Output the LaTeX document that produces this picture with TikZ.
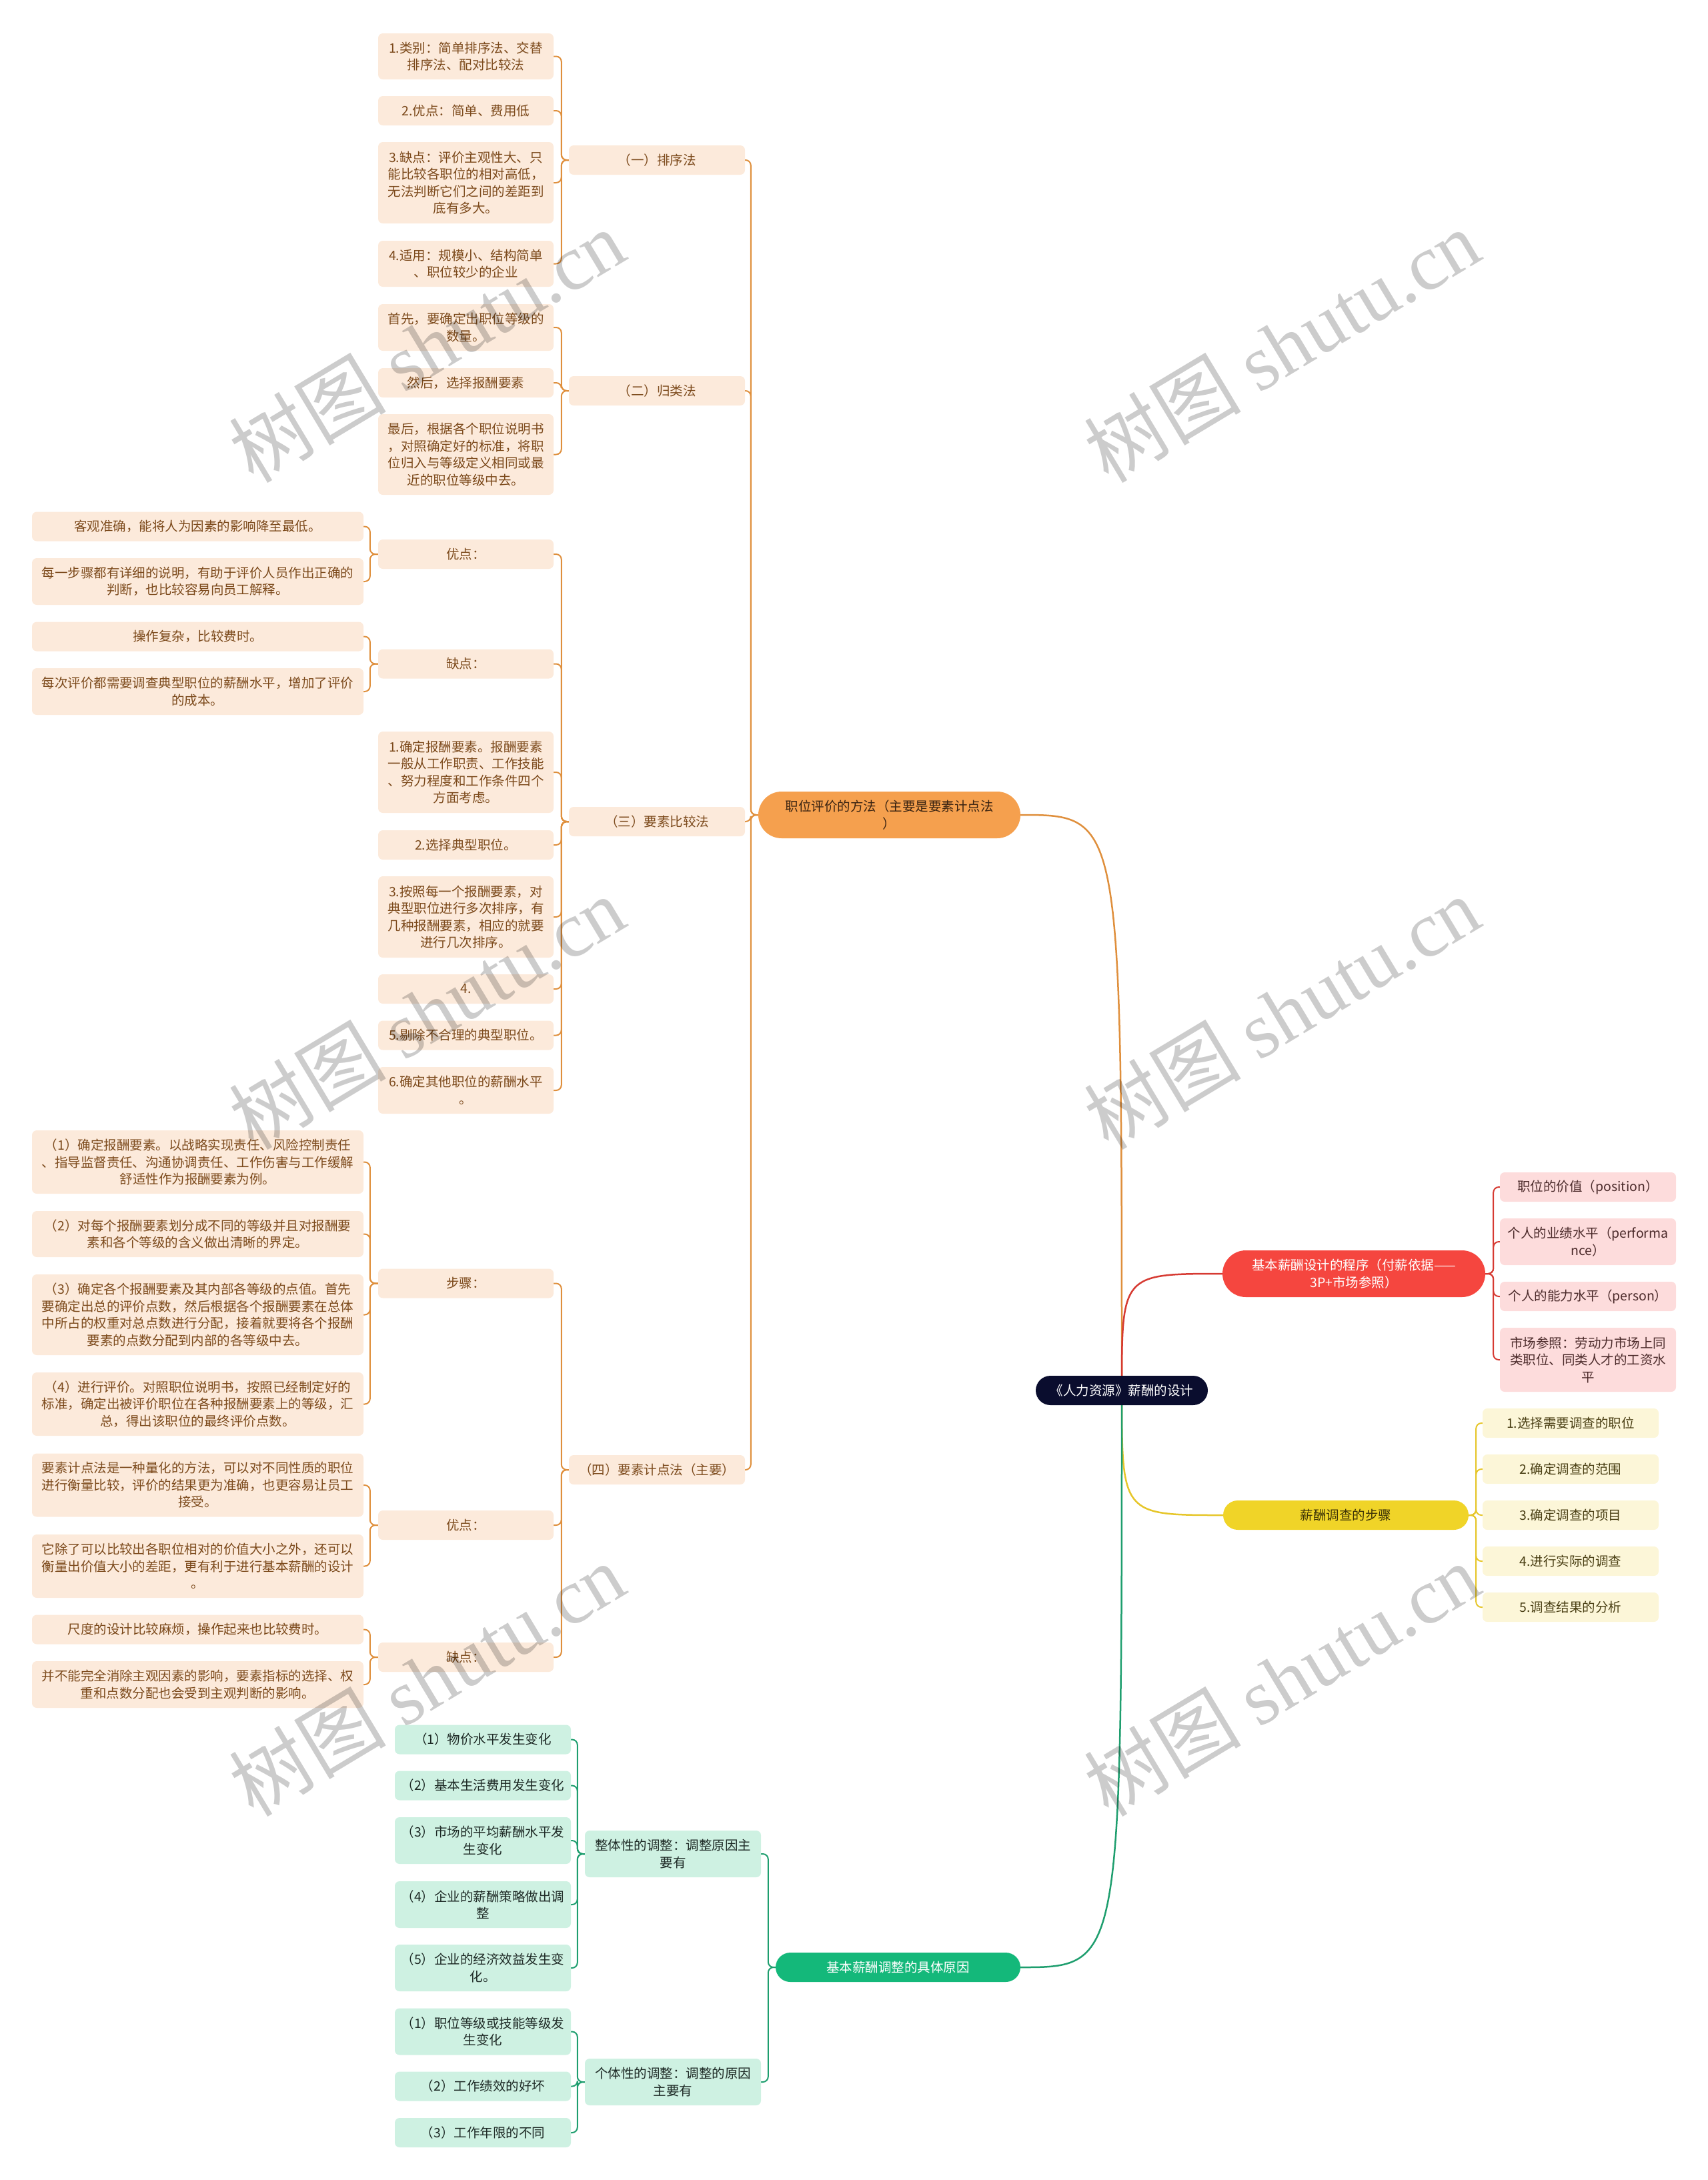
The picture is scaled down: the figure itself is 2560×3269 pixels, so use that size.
\documentclass[tikz,border=0pt]{standalone}
\usepackage{fontspec}
\setmainfont{Noto Sans CJK SC}
\newfontfamily\wmserif{Liberation Serif}
\usetikzlibrary{backgrounds}
\definecolor{oLine}{HTML}{DF8F3C}
\definecolor{oFill}{HTML}{FCEADB}
\definecolor{oPill}{HTML}{F5A04E}
\definecolor{oText}{HTML}{7C4A1C}
\definecolor{oPText}{HTML}{3B2412}
\definecolor{rLine}{HTML}{D63A32}
\definecolor{rPill}{HTML}{F5463F}
\definecolor{rFill}{HTML}{FDDCDC}
\definecolor{rText}{HTML}{4B2A2A}
\definecolor{yLine}{HTML}{E6C62A}
\definecolor{yPill}{HTML}{F0D428}
\definecolor{yFill}{HTML}{FCF6D8}
\definecolor{yText}{HTML}{4A3F14}
\definecolor{yPText}{HTML}{3E3407}
\definecolor{gLine}{HTML}{1E9E6E}
\definecolor{gPill}{HTML}{14B87A}
\definecolor{gFill}{HTML}{CEF1E2}
\definecolor{gText}{HTML}{1E2A26}
\definecolor{rootFill}{HTML}{0A0D2E}
\tikzset{
  sz/.style 2 args={minimum width=#1pt,minimum height=#2pt},
  box/.style={rounded corners=7pt, inner sep=0pt, align=center, font=\fontsize{19.5}{25.5}\selectfont},
  oleaf/.style={box, fill=oFill, text=oText},
  rleaf/.style={box, fill=rFill, text=rText},
  yleaf/.style={box, fill=yFill, text=yText},
  gleaf/.style={box, fill=gFill, text=gText},
  pillA/.style={box, rounded corners=35pt},
  pillB/.style={box, rounded corners=22pt},
  opill/.style={pillA, fill=oPill, text=oPText},
  rpill/.style={pillA, fill=rPill, text=white},
  ypill/.style={pillB, fill=yPill, text=yPText},
  gpill/.style={pillB, fill=gPill, text=white},
  rootn/.style={pillB, fill=rootFill, text=white},
  oln/.style={draw=oLine, line width=2pt, rounded corners=8pt},
  rln/.style={draw=rLine, line width=2pt, rounded corners=8pt},
  yln/.style={draw=yLine, line width=2pt, rounded corners=8pt},
  gln/.style={draw=gLine, line width=2pt, rounded corners=8pt},
  wm/.style={rotate=31, font=\fontsize{118}{118}\selectfont, text=black, text opacity=0.2, inner sep=0pt}
}
\begin{document}
\begin{tikzpicture}[x=1pt,y=-1pt]
\useasboundingbox (0,0) rectangle (2560,3269);
% root and main branches
\node[rootn, sz={258}{44}] (root) at (1682,2085) {《人力资源》薪酬的设计};
\node[opill, sz={393}{70}] (op) at (1333.5,1222) {职位评价的方法（主要是要素计点法\\）};
\node[rpill, sz={394}{70}] (rp) at (2030,1910) {基本薪酬设计的程序（付薪依据——\\3P+市场参照）};
\node[ypill, sz={368}{44}] (yp) at (2018,2272) {薪酬调查的步骤};
\node[gpill, sz={367}{44}] (gp) at (1346.5,2950) {基本薪酬调整的具体原因};
% orange level 2
\node[oleaf, sz={264}{44}] (oA) at (985,240) {（一）排序法};
\node[oleaf, sz={264}{44}] (oB) at (985,586) {（二）归类法};
\node[oleaf, sz={264}{44}] (oC) at (985,1232) {（三）要素比较法};
\node[oleaf, sz={264}{44}] (oD) at (985,2204) {（四）要素计点法（主要）};
% orange level 3
\node[oleaf, sz={263}{69}] (oa1) at (698.5,84.5) {1.类别：简单排序法、交替\\排序法、配对比较法};
\node[oleaf, sz={263}{44}] (oa2) at (698.5,166) {2.优点：简单、费用低};
\node[oleaf, sz={263}{122}] (oa3) at (698.5,274) {3.缺点：评价主观性大、只\\能比较各职位的相对高低，\\无法判断它们之间的差距到\\底有多大。};
\node[oleaf, sz={263}{69}] (oa4) at (698.5,395.5) {4.适用：规模小、结构简单\\、职位较少的企业};
\node[oleaf, sz={263}{70}] (ob1) at (698.5,491) {首先，要确定出职位等级的\\数量。};
\node[oleaf, sz={263}{44}] (ob2) at (698.5,574) {然后，选择报酬要素};
\node[oleaf, sz={263}{121}] (ob3) at (698.5,681.5) {最后，根据各个职位说明书\\，对照确定好的标准，将职\\位归入与等级定义相同或最\\近的职位等级中去。};
\node[oleaf, sz={263}{44}] (oC1) at (698.5,831) {优点：};
\node[oleaf, sz={263}{44}] (oC2) at (698.5,995.5) {缺点：};
\node[oleaf, sz={263}{122}] (oC3) at (698.5,1158) {1.确定报酬要素。报酬要素\\一般从工作职责、工作技能\\、努力程度和工作条件四个\\方面考虑。};
\node[oleaf, sz={263}{44}] (oC4) at (698.5,1267) {2.选择典型职位。};
\node[oleaf, sz={263}{122}] (oC5) at (698.5,1375) {3.按照每一个报酬要素，对\\典型职位进行多次排序，有\\几种报酬要素，相应的就要\\进行几次排序。};
\node[oleaf, sz={263}{44}] (oC6) at (698.5,1483) {4.};
\node[oleaf, sz={263}{44}] (oC7) at (698.5,1552.5) {5.剔除不合理的典型职位。};
\node[oleaf, sz={263}{70}] (oC8) at (698.5,1635) {6.确定其他职位的薪酬水平\\。};
\node[oleaf, sz={263}{44}] (oD1) at (698.5,1924.5) {步骤：};
\node[oleaf, sz={263}{44}] (oD2) at (698.5,2287) {优点：};
\node[oleaf, sz={263}{44}] (oD3) at (698.5,2485) {缺点：};
% orange level 4
\node[oleaf, sz={497}{44}] (oC1a) at (296.5,789.5) {客观准确，能将人为因素的影响降至最低。};
\node[oleaf, sz={497}{70}] (oC1b) at (296.5,872) {每一步骤都有详细的说明，有助于评价人员作出正确的\\判断，也比较容易向员工解释。};
\node[oleaf, sz={497}{44}] (oC2a) at (296.5,954.5) {操作复杂，比较费时。};
\node[oleaf, sz={497}{70}] (oC2b) at (296.5,1037) {每次评价都需要调查典型职位的薪酬水平，增加了评价\\的成本。};
\node[oleaf, sz={497}{95}] (oD1a) at (296.5,1742.5) {（1）确定报酬要素。以战略实现责任、风险控制责任\\、指导监督责任、沟通协调责任、工作伤害与工作缓解\\舒适性作为报酬要素为例。};
\node[oleaf, sz={497}{69}] (oD1b) at (296.5,1850.5) {（2）对每个报酬要素划分成不同的等级并且对报酬要\\素和各个等级的含义做出清晰的界定。};
\node[oleaf, sz={497}{121}] (oD1c) at (296.5,1971.5) {（3）确定各个报酬要素及其内部各等级的点值。首先\\要确定出总的评价点数，然后根据各个报酬要素在总体\\中所占的权重对总点数进行分配，接着就要将各个报酬\\要素的点数分配到内部的各等级中去。};
\node[oleaf, sz={497}{95}] (oD1d) at (296.5,2105.5) {（4）进行评价。对照职位说明书，按照已经制定好的\\标准，确定出被评价职位在各种报酬要素上的等级，汇\\总，得出该职位的最终评价点数。};
\node[oleaf, sz={497}{95}] (oD2a) at (296.5,2227) {要素计点法是一种量化的方法，可以对不同性质的职位\\进行衡量比较，评价的结果更为准确，也更容易让员工\\接受。};
\node[oleaf, sz={497}{95}] (oD2b) at (296.5,2348.5) {它除了可以比较出各职位相对的价值大小之外，还可以\\衡量出价值大小的差距，更有利于进行基本薪酬的设计\\。};
\node[oleaf, sz={497}{44}] (oD3a) at (296.5,2443.5) {尺度的设计比较麻烦，操作起来也比较费时。};
\node[oleaf, sz={497}{70}] (oD3b) at (296.5,2526) {并不能完全消除主观因素的影响，要素指标的选择、权\\重和点数分配也会受到主观判断的影响。};
% red leaves
\node[rleaf, sz={264}{44}] (r1) at (2381,1780) {职位的价值（position）};
\node[rleaf, sz={264}{70}] (r2) at (2381,1862) {个人的业绩水平（performa\\nce）};
\node[rleaf, sz={264}{44}] (r3) at (2381,1944) {个人的能力水平（person）};
\node[rleaf, sz={264}{96}] (r4) at (2381,2039) {市场参照：劳动力市场上同\\类职位、同类人才的工资水\\平};
% yellow leaves
\node[yleaf, sz={264}{44}] (y1) at (2355,2134) {1.选择需要调查的职位};
\node[yleaf, sz={264}{44}] (y2) at (2355,2203) {2.确定调查的范围};
\node[yleaf, sz={264}{44}] (y3) at (2355,2272) {3.确定调查的项目};
\node[yleaf, sz={264}{44}] (y4) at (2355,2341) {4.进行实际的调查};
\node[yleaf, sz={264}{44}] (y5) at (2355,2410) {5.调查结果的分析};
% green
\node[gleaf, sz={264}{70}] (gA) at (1009,2780) {整体性的调整：调整原因主\\要有};
\node[gleaf, sz={264}{70}] (gB) at (1009,3122) {个体性的调整：调整的原因\\主要有};
\node[gleaf, sz={264}{44}] (g1) at (724,2608.5) {（1）物价水平发生变化};
\node[gleaf, sz={264}{44}] (g2) at (724,2677.5) {（2）基本生活费用发生变化};
\node[gleaf, sz={264}{70}] (g3) at (724,2760) {（3）市场的平均薪酬水平发\\生变化};
\node[gleaf, sz={264}{70}] (g4) at (724,2856) {（4）企业的薪酬策略做出调\\整};
\node[gleaf, sz={264}{70}] (g5) at (724,2951) {（5）企业的经济效益发生变\\化。};
\node[gleaf, sz={264}{70}] (g6) at (724,3046.5) {（1）职位等级或技能等级发\\生变化};
\node[gleaf, sz={264}{44}] (g7) at (724,3128.5) {（2）工作绩效的好坏};
\node[gleaf, sz={264}{44}] (g8) at (724,3198) {（3）工作年限的不同};
% connectors
\begin{scope}[on background layer]
\draw[oLine, line width=2.5pt] (root.center) .. controls (root.center |- op.east) .. (op.east);
\draw[rLine, line width=2.5pt] (root.center) .. controls (root.center |- rp.west) .. (rp.west);
\draw[yLine, line width=2.5pt] (root.center) .. controls (root.center |- yp.west) .. (yp.west);
\draw[gLine, line width=2.5pt] (root.center) .. controls (root.center |- gp.east) .. (gp.east);
\foreach \c in {oA,oB,oC,oD} \draw[oln] (op.west) -- ++(-11,0) |- (\c.east);
\foreach \c in {oa1,oa2,oa3,oa4} \draw[oln] (oA.west) -- ++(-11,0) |- (\c.east);
\foreach \c in {ob1,ob2,ob3} \draw[oln] (oB.west) -- ++(-11,0) |- (\c.east);
\foreach \c in {oC1,oC2,oC3,oC4,oC5,oC6,oC7,oC8} \draw[oln] (oC.west) -- ++(-11,0) |- (\c.east);
\foreach \c in {oD1,oD2,oD3} \draw[oln] (oD.west) -- ++(-11,0) |- (\c.east);
\foreach \c in {oC1a,oC1b} \draw[oln] (oC1.west) -- ++(-12,0) |- (\c.east);
\foreach \c in {oC2a,oC2b} \draw[oln] (oC2.west) -- ++(-12,0) |- (\c.east);
\foreach \c in {oD1a,oD1b,oD1c,oD1d} \draw[oln] (oD1.west) -- ++(-12,0) |- (\c.east);
\foreach \c in {oD2a,oD2b} \draw[oln] (oD2.west) -- ++(-12,0) |- (\c.east);
\foreach \c in {oD3a,oD3b} \draw[oln] (oD3.west) -- ++(-12,0) |- (\c.east);
\foreach \c in {r1,r2,r3,r4} \draw[rln] (rp.east) -- ++(12,0) |- (\c.west);
\foreach \c in {y1,y2,y3,y4,y5} \draw[yln] (yp.east) -- ++(11,0) |- (\c.west);
\foreach \c in {gA,gB} \draw[gln] (gp.west) -- ++(-11,0) |- (\c.east);
\foreach \c in {g1,g2,g3,g4,g5} \draw[gln] (gA.west) -- ++(-11,0) |- (\c.east);
\foreach \c in {g6,g7,g8} \draw[gln] (gB.west) -- ++(-11,0) |- (\c.east);
\end{scope}
% watermarks
\node[wm] (w1) at (640,518) {树图 {\wmserif shutu.cn}};
\node[wm] (w2) at (1922,518) {树图 {\wmserif shutu.cn}};
\node[wm] (w3) at (640,1518) {树图 {\wmserif shutu.cn}};
\node[wm] (w4) at (1922,1518) {树图 {\wmserif shutu.cn}};
\node[wm] (w5) at (640,2518) {树图 {\wmserif shutu.cn}};
\node[wm] (w6) at (1922,2518) {树图 {\wmserif shutu.cn}};
\end{tikzpicture}
\end{document}
